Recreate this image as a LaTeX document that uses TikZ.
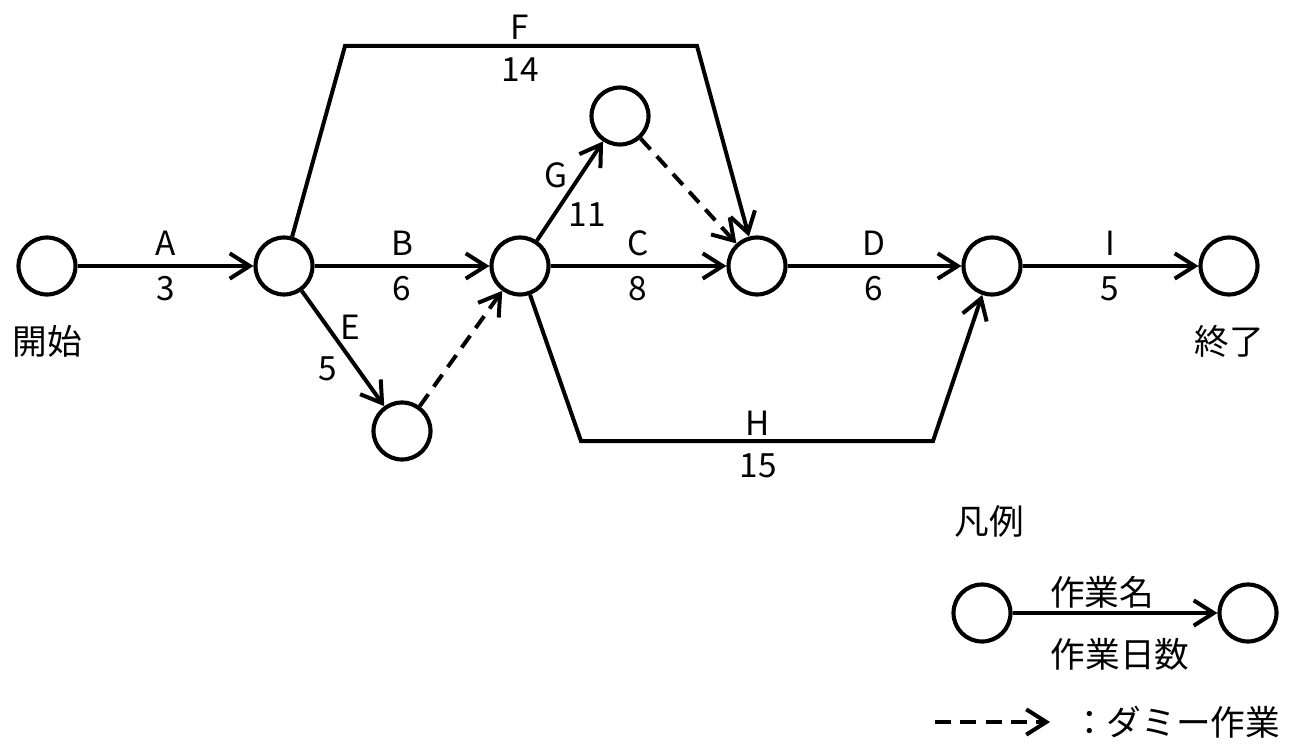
\documentclass[tikz,border=0pt]{standalone}
\usepackage{fontspec}
\setmainfont{Noto Sans CJK JP}
\usetikzlibrary{arrows.meta}
\begin{document}
\begin{tikzpicture}[x=0.75pt,y=-0.75pt,
  ev/.style={circle,draw,line width=3.1pt,minimum size=42.75pt,inner sep=0pt},
  act/.style={line width=3pt,-{Straight Barb[length=15pt,width=19pt,line width=3pt]},shorten >=0pt},
  dummy/.style={act,dash pattern=on 11pt off 7pt},
  lab/.style={font=\fontsize{25}{25}\selectfont,inner sep=0pt},
  jlab/.style={font=\fontsize{26}{26}\selectfont,inner sep=0pt}]
\useasboundingbox (0,0) rectangle (1302,756);
% events
\node[ev] (s)  at (47,266) {};
\node[ev] (n1) at (284,266) {};
\node[ev] (n2) at (520,266) {};
\node[ev] (n3) at (757,266) {};
\node[ev] (n4) at (992,266) {};
\node[ev] (e)  at (1229,266) {};
\node[ev] (g)  at (620,116) {};
\node[ev] (b)  at (402,431) {};
% bends
\coordinate (f1) at (345,46);
\coordinate (f2) at (697,46);
\coordinate (h1) at (581,441);
\coordinate (h2) at (933,441);
% activities
\draw[act] (s) -- (n1);
\draw[act] (n1) -- (n2);
\draw[act] (n2) -- (n3);
\draw[act] (n3) -- (n4);
\draw[act] (n4) -- (e);
\draw[act] (n1) -- (b);
\draw[act] (n2) -- (g);
\draw[act,line join=miter] (n1) -- (f1) -- (f2) -- (n3);
\draw[act,line join=miter] (n2) -- (h1) -- (h2) -- (n4);
\draw[dummy] (b) -- (n2);
\draw[dummy] (g) -- (n3);
% labels
\node[lab] (la) at (166,243) {A};
\node[lab] (la2) at (166,289) {3};
\node[lab] (lb) at (402,243) {B};
\node[lab] (lb2) at (402,289) {6};
\node[lab] (lc) at (638,243) {C};
\node[lab] (lc2) at (638,289) {8};
\node[lab] (ld) at (874,243) {D};
\node[lab] (ld2) at (874,289) {6};
\node[lab] (li) at (1110,243) {I};
\node[lab] (li2) at (1110,289) {5};
\node[lab] (lf) at (520,27) {F};
\node[lab] (lf2) at (520,70) {14};
\node[lab] (lh) at (758,423) {H};
\node[lab] (lh2) at (758,466) {15};
\node[lab] (lg) at (556,175) {G};
\node[lab] (lg2) at (587,215) {11};
\node[lab] (le) at (350,327) {E};
\node[lab] (le2) at (328,369) {5};
\node[jlab] (ts) at (47,341) {開始};
\node[jlab] (te) at (1229,341) {終了};
% legend
\node[jlab] (hanrei) at (989,521) {凡例};
\node[ev] (l1) at (982,613) {};
\node[ev] (l2) at (1248,613) {};
\draw[act] (l1) -- (l2);
\node[jlab] (lname) at (1102,592) {作業名};
\node[jlab] (ldays) at (1120,654) {作業日数};
\coordinate (d1) at (935,722);
\coordinate (d2) at (1050,722);
\draw[act,dash pattern=on 12pt off 7pt] (d1) -- (d2);
\node[jlab,anchor=west] (ldummy) at (1072,722) {：ダミー作業};
\end{tikzpicture}
\end{document}
